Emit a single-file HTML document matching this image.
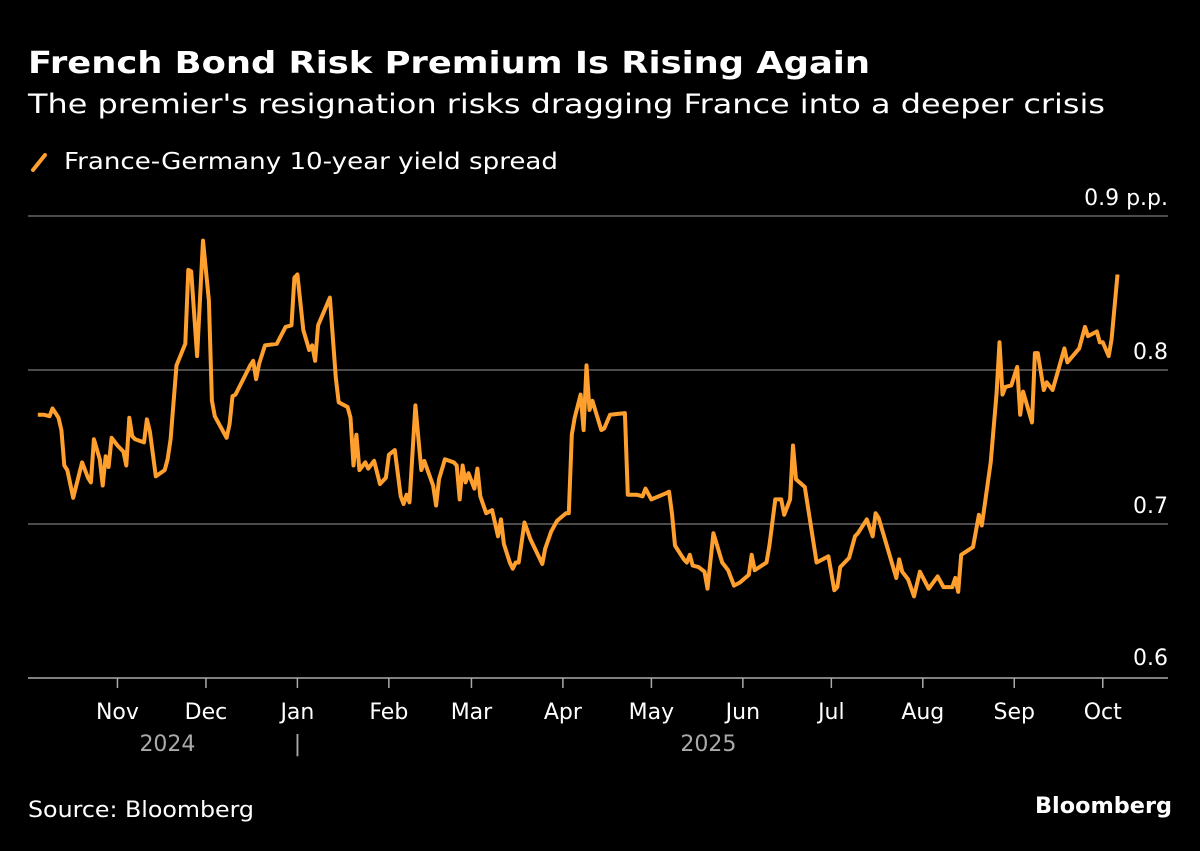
<!DOCTYPE html>
<html><head><meta charset="utf-8"><style>
html,body{margin:0;padding:0;background:#000;}
body{width:1200px;height:847px;overflow:hidden;font-family:"DejaVu Sans","Liberation Sans",sans-serif;}
svg text{font-family:"DejaVu Sans","Liberation Sans",sans-serif;}
</style></head><body>
<svg width="1200" height="847" viewBox="0 0 1200 847" xmlns="http://www.w3.org/2000/svg">
<text x="28" y="73" fill="#fff" font-size="30" font-weight="bold" textLength="842" lengthAdjust="spacingAndGlyphs">French Bond Risk Premium Is Rising Again</text>
<text x="28" y="113" fill="#fff" font-size="27" textLength="1077" lengthAdjust="spacingAndGlyphs">The premier's resignation risks dragging France into a deeper crisis</text>
<g>
<line x1="33" y1="170" x2="45" y2="155" stroke="#ff9f2e" stroke-width="4" stroke-linecap="round"/>
<text x="64" y="169" fill="#fff" font-size="23" textLength="494" lengthAdjust="spacingAndGlyphs">France-Germany 10-year yield spread</text>
</g>
<g id="grid"></g>
<g id="xaxis"></g>
<path id="line" fill="none" stroke="#ff9f2e" stroke-width="4" stroke-linejoin="round"/>
<text x="28" y="817" fill="#fff" font-size="22" textLength="226" lengthAdjust="spacingAndGlyphs">Source: Bloomberg</text>
<text x="1035" y="813" fill="#fff" font-size="22" font-weight="bold" textLength="137" lengthAdjust="spacingAndGlyphs">Bloomberg</text>
</svg>
<script>
const days=[4,6,8,9,11,12,13,14,16,19,21,22,23,25,26,27,28,29,31,33,34,35,36,37,40,41,42,44,47,48,49,51,54,55,56,58,60,62,63,64,68,69,70,71,76,77,78,79,81,85,88,90,91,92,94,96,97,98,99,103,105,106,109,110,111,112,113,115,116,118,120,122,123,125,127,128,129,130,132,134,135,138,139,140,142,145,146,147,148,149,150,152,153,154,156,158,160,161,162,164,165,166,167,169,171,175,176,178,180,183,184,185,186,188,189,190,191,192,195,196,198,203,204,207,209,210,212,217,218,219,220,223,224,225,226,228,230,231,233,236,238,240,242,245,246,247,251,252,254,256,257,259,260,261,264,268,272,274,275,276,279,281,282,285,287,288,289,295,296,297,299,301,303,306,309,311,314,315,316,317,321,323,324,327,329,330,331,332,334,336,337,338,341,342,343,345,346,348,352,353,357,359,360,363,364,365,367,368,370];
const spread=[.771,.771,.770,.775,.769,.761,.738,.735,.717,.740,.730,.727,.755,.742,.725,.744,.737,.756,.751,.747,.738,.769,.757,.755,.753,.768,.760,.731,.735,.742,.755,.803,.817,.865,.864,.809,.884,.845,.780,.770,.756,.765,.783,.784,.803,.806,.794,.804,.816,.817,.828,.829,.860,.862,.826,.813,.816,.806,.829,.847,.795,.779,.776,.769,.738,.758,.735,.740,.736,.741,.726,.730,.745,.748,.718,.713,.719,.714,.777,.735,.741,.725,.712,.729,.742,.740,.738,.716,.738,.727,.733,.723,.736,.718,.707,.709,.692,.703,.687,.675,.671,.675,.675,.701,.690,.674,.684,.695,.702,.707,.707,.758,.769,.784,.761,.803,.774,.780,.761,.762,.771,.772,.719,.719,.718,.723,.716,.720,.721,.706,.686,.677,.675,.680,.673,.672,.669,.658,.694,.675,.670,.660,.662,.667,.680,.670,.675,.686,.716,.716,.706,.716,.751,.729,.724,.675,.679,.657,.659,.672,.678,.692,.694,.703,.692,.707,.704,.665,.677,.669,.664,.653,.669,.658,.666,.659,.659,.665,.656,.680,.685,.706,.699,.740,.785,.818,.784,.789,.790,.802,.771,.786,.766,.811,.811,.787,.792,.787,.814,.805,.814,.828,.822,.825,.818,.818,.809,.820,.862];
const yTicks=[0.6,0.7,0.8,0.9];
const yTickLabels=["0.6","0.7","0.8","0.9 p.p."];
const monthLabels=["Nov","Dec","Jan","Feb","Mar","Apr","May","Jun","Jul","Aug","Sep","Oct"];
const monthDays=[31,61,92,123,151,182,212,243,273,304,335,365];
const NS="http://www.w3.org/2000/svg";
function xs(d){return 26+d*2.95;}
function ys(v){return 370-(v-0.8)*1540;}
const grid=document.getElementById('grid');
yTicks.forEach((t,i)=>{
  const y=ys(t);
  const l=document.createElementNS(NS,'line');
  l.setAttribute('x1',28);l.setAttribute('x2',1168);l.setAttribute('y1',y);l.setAttribute('y2',y);
  l.setAttribute('stroke',i===0?'#aaa':'#666');l.setAttribute('stroke-width',1.5);
  
  
  grid.appendChild(l);
  const tx=document.createElementNS(NS,'text');
  tx.setAttribute('x',1168);tx.setAttribute('y',i===0?y-13:y-11);tx.setAttribute('text-anchor','end');
  tx.setAttribute('fill','#fff');tx.setAttribute('font-size','22');
  tx.textContent=yTickLabels[i];
  
  
  grid.appendChild(tx);
});
const xa=document.getElementById('xaxis');
monthDays.forEach((d,i)=>{
  const x=xs(d);
  const l=document.createElementNS(NS,'line');
  l.setAttribute('x1',x);l.setAttribute('x2',x);l.setAttribute('y1',678);l.setAttribute('y2',688);
  l.setAttribute('stroke','#aaa');l.setAttribute('stroke-width',1.5);
  
  
  xa.appendChild(l);
  const tx=document.createElementNS(NS,'text');
  tx.setAttribute('x',x);tx.setAttribute('y',719);tx.setAttribute('text-anchor','middle');
  tx.setAttribute('fill','#fff');tx.setAttribute('font-size','22');
  tx.textContent=monthLabels[i];
  
  
  xa.appendChild(tx);
});
[["2024",xs(31)+50],["|",xs(92)],["2025",xs(212)+57]].forEach(a=>{
  const tx=document.createElementNS(NS,'text');
  tx.setAttribute('x',a[1]);tx.setAttribute('y',751);tx.setAttribute('text-anchor','middle');
  tx.setAttribute('fill','#aaa');tx.setAttribute('font-size','22');
  tx.textContent=a[0];
  
  
  xa.appendChild(tx);
});
let p='';
days.forEach((d,i)=>{p+=(i?'L':'M')+xs(d).toFixed(1)+','+ys(spread[i]).toFixed(1);});
document.getElementById('line').setAttribute('d',p);
</script>
</body></html>
